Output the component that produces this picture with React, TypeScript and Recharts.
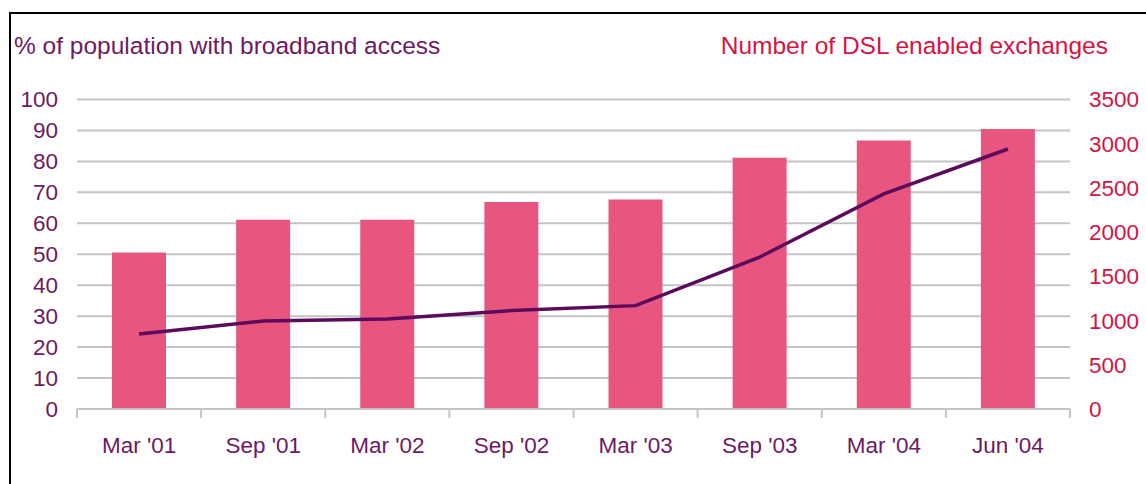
import React from 'react';
import { ComposedChart, Bar, Line, XAxis, YAxis, CartesianGrid } from 'recharts';

const periods = ["Mar '01", "Sep '01", "Mar '02", "Sep '02", "Mar '03", "Sep '03", "Mar '04", "Jun '04"];
const dslExchanges = [1770, 2140, 2140, 2340, 2370, 2840, 3035, 3165];
const broadbandPct = [24.2, 28.4, 29.1, 31.8, 33.4, 49.1, 69.5, 84];
const leftTicks = [0, 10, 20, 30, 40, 50, 60, 70, 80, 90, 100];
const rightTicks = [0, 500, 1000, 1500, 2000, 2500, 3000, 3500];

const data = periods.map((period, i) => ({
  period,
  dsl: dslExchanges[i],
  pct: broadbandPct[i],
}));

const W = 1146;
const H = 484;
const PLOT_LEFT = 77;
const PLOT_RIGHT = 1070;
const BAND = (PLOT_RIGHT - PLOT_LEFT) / periods.length;
const FONT = '"Liberation Sans", Arial, sans-serif';
const PURPLE = '#6b1a63';
const RED = '#d41444';
const GRID = '#c4c4c4';

function PeriodTick(props: any) {
  const { x, y, payload, index } = props;
  const last = index === periods.length - 1;
  return (
    <g>
      <line x1={x - BAND / 2} y1={y} x2={x - BAND / 2} y2={y + 9} stroke={GRID} strokeWidth={2} />
      {last && <line x1={x + BAND / 2} y1={y} x2={x + BAND / 2} y2={y + 9} stroke={GRID} strokeWidth={2} />}
      <text x={x} y={y + 44} textAnchor="middle" fill={PURPLE} fontSize={22.5} fontFamily={FONT}>
        {payload.value}
      </text>
    </g>
  );
}

export default function App() {
  return (
    <div style={{ position: 'absolute', left: 0, top: 0, width: W, height: H, background: '#fff', fontFamily: FONT }}>
      <div style={{ position: 'absolute', left: 9, top: 12, width: W - 9, height: H - 12, borderLeft: '2px solid #000', borderTop: '2px solid #000', boxSizing: 'border-box' }} />
      <div style={{ position: 'absolute', left: 14, top: 34, fontSize: 24.5, lineHeight: 1, color: PURPLE, whiteSpace: 'nowrap' }}>
        % of population with broadband access
      </div>
      <div style={{ position: 'absolute', right: W - 1108, top: 34, fontSize: 24.5, lineHeight: 1, color: RED, whiteSpace: 'nowrap' }}>
        Number of DSL enabled exchanges
      </div>
      <div style={{ position: 'absolute', left: 0, top: 0 }}>
        <ComposedChart
          width={W}
          height={H}
          data={data}
          margin={{ top: 99.5, right: 6, bottom: 35, left: 8 }}
        >
          <CartesianGrid yAxisId="left" vertical={false} stroke={GRID} strokeWidth={2} />
          <XAxis
            dataKey="period"
            height={40}
            axisLine={{ stroke: GRID, strokeWidth: 2 }}
            tickLine={false}
            tickSize={0}
            tickMargin={0}
            tick={<PeriodTick />}
            interval={0}
          />
          <YAxis
            yAxisId="left"
            orientation="left"
            width={69}
            domain={[0, 100]}
            ticks={leftTicks}
            interval={0}
            axisLine={false}
            tickLine={false}
            tickSize={0}
            tickMargin={19}
            tick={{ fill: PURPLE, fontSize: 22.5, fontFamily: FONT }}
          />
          <YAxis
            yAxisId="right"
            orientation="right"
            width={70}
            domain={[0, 3500]}
            ticks={rightTicks}
            interval={0}
            axisLine={false}
            tickLine={false}
            tickSize={0}
            tickMargin={19}
            tick={{ fill: RED, fontSize: 22.5, fontFamily: FONT, textAnchor: 'start' }}
          />
          <Bar yAxisId="right" dataKey="dsl" fill="#e8567f" barSize={54} isAnimationActive={false} />
          <Line
            yAxisId="left"
            type="linear"
            dataKey="pct"
            stroke="#5c0b5c"
            strokeWidth={3.5}
            dot={false}
            isAnimationActive={false}
          />
        </ComposedChart>
      </div>
    </div>
  );
}
